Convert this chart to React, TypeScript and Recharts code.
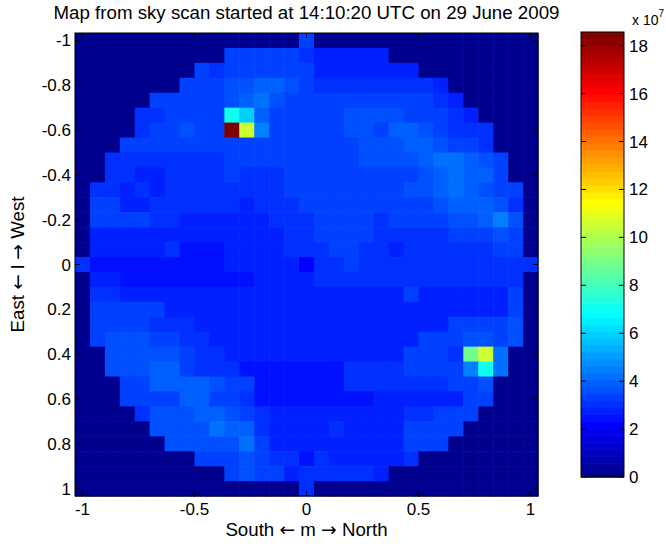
import React from "react";
import { ScatterChart, Scatter, XAxis, YAxis } from "recharts";

// grid positions in fifteenths (cell centres from -1 to 1)
const gridSteps = [
  -15, -14, -13, -12, -11, -10, -9, -8, -7, -6, -5, -4, -3, -2, -1, 0,
  1, 2, 3, 4, 5, 6, 7, 8, 9, 10, 11, 12, 13, 14, 15,
];
const mTicks = [-1, -0.5, 0, 0.5, 1];
const lTicks = [-1, -0.8, -0.6, -0.4, -0.2, 0, 0.2, 0.4, 0.6, 0.8, 1];
const colorTicks = [0, 2, 4, 6, 8, 10, 12, 14, 16, 18];
const colorMax = 18.57;

// sky map, units of 1e7, rows from l = -1 (top) to l = 1, cols from m = -1 to 1
const skyMap = [
  [0,0,0,0,0,0,0,0,0,0,0,0,0,0,0,3.2,0,0,0,0,0,0,0,0,0,0,0,0,0,0,0],
  [0,0,0,0,0,0,0,0,0,0,3.2,3.2,3.2,3.2,3.2,3.1,2.9,2.9,2.9,2.9,2.9,0,0,0,0,0,0,0,0,0,0],
  [0,0,0,0,0,0,0,0,3.3,3.0,3.4,3.4,3.4,3.4,3.4,3.2,2.9,2.9,2.9,2.9,2.9,2.9,2.8,0,0,0,0,0,0,0,0],
  [0,0,0,0,0,0,0,3.2,3.2,3.2,3.5,3.6,4.0,3.9,3.6,3.3,3.0,3.0,3.0,3.0,3.0,3.0,3.0,3.0,2.8,0,0,0,0,0,0],
  [0,0,0,0,0,3.2,3.2,3.2,3.2,3.3,3.5,3.8,4.2,3.7,3.4,3.4,3.2,3.2,3.2,3.2,3.2,3.2,3.2,3.2,3.0,2.7,0,0,0,0,0],
  [0,0,0,0,3.1,3.1,3.3,3.3,3.3,3.4,7.0,5.9,3.8,3.4,3.2,3.2,3.2,3.2,3.5,3.7,3.5,3.7,3.4,3.4,3.2,3.0,2.8,0,0,0,0],
  [0,0,0,0,3.1,3.4,3.4,3.7,3.3,3.3,18.57,10.5,4.5,3.3,3.3,3.3,3.3,3.3,3.5,3.5,3.4,3.8,3.8,3.6,3.4,3.1,3.1,3.0,0,0,0],
  [0,0,0,3.2,3.2,3.2,3.2,3.2,3.4,3.4,3.4,3.4,3.4,3.4,3.4,3.4,3.4,3.4,3.4,3.6,3.6,3.6,3.8,3.8,3.6,3.4,3.2,3.0,0,0,0],
  [0,0,3.1,3.1,3.1,3.1,3.1,3.1,3.1,3.1,3.3,3.3,3.3,3.3,3.3,3.3,3.3,3.3,3.3,3.5,3.5,3.7,3.7,3.9,4.1,4.1,3.8,3.6,3.2,0,0],
  [0,0,3.1,3.1,2.8,2.8,3.0,3.0,3.0,3.0,3.3,3.1,3.1,3.1,3.2,3.2,3.2,3.2,3.2,3.2,3.2,3.4,3.4,3.7,3.8,4.3,4.0,3.8,3.3,0,0],
  [0,3.1,3.1,2.8,3.0,2.8,3.0,3.0,3.0,3.0,3.0,3.0,3.0,3.0,3.3,3.3,3.3,3.3,3.3,3.3,3.3,3.3,3.5,3.5,3.9,4.2,3.9,3.7,3.4,3.2,0],
  [0,3.2,3.2,2.8,2.8,3.0,3.0,3.0,3.0,3.0,3.0,2.8,3.0,3.0,3.0,3.2,3.2,3.2,3.2,3.2,3.2,3.3,3.3,3.3,3.7,4.0,4.0,3.8,3.5,3.0,0],
  [0,3.2,3.2,3.2,3.2,3.0,3.1,2.8,2.8,2.8,2.8,2.8,2.8,3.0,3.0,3.0,3.3,3.3,3.3,3.3,3.1,3.4,3.4,3.2,3.4,3.6,3.6,3.8,4.6,3.6,0],
  [0,2.9,2.9,2.9,2.9,2.9,2.9,2.9,2.9,2.9,2.9,2.9,2.9,2.9,3.1,3.1,3.3,3.3,3.3,3.3,3.1,3.1,3.1,3.1,3.1,3.3,3.3,3.3,3.6,3.3,0],
  [0,2.7,2.7,2.7,2.7,2.7,3.0,2.5,2.5,2.5,2.9,2.9,2.9,2.9,3.1,3.1,3.1,3.3,3.3,3.1,3.1,2.7,3.1,3.1,3.1,3.1,3.1,3.1,3.4,3.4,0],
  [3.1,2.6,2.6,2.6,2.6,2.6,2.6,2.6,2.6,2.6,2.9,2.9,2.9,2.9,2.9,2.3,3.1,3.1,3.3,3.0,3.0,3.0,3.0,3.0,3.0,3.0,3.0,3.0,3.0,3.0,3.1],
  [0,2.9,2.9,2.5,2.5,2.5,2.5,2.5,2.5,2.5,2.5,2.5,2.8,2.8,2.8,2.8,3.1,3.1,3.0,3.0,3.0,3.0,3.0,3.0,3.0,3.0,3.0,3.0,3.0,3.0,0],
  [0,3.0,3.0,2.7,2.7,2.7,2.7,2.7,2.7,2.7,2.7,2.7,2.7,2.7,2.7,2.7,2.7,2.9,2.9,2.9,2.9,2.9,3.4,2.9,2.9,2.9,2.9,2.9,2.9,3.2,0],
  [0,3.2,3.2,3.2,3.2,3.2,2.7,2.7,2.7,2.7,2.7,2.7,2.7,2.7,2.7,2.7,2.7,2.9,2.9,2.9,2.9,2.9,2.9,2.9,2.9,2.9,2.9,2.9,2.9,3.3,0],
  [0,3.4,3.4,3.4,3.4,3.0,3.0,3.0,2.7,2.7,2.7,2.7,2.7,2.7,2.7,2.7,2.7,2.9,2.9,2.9,2.9,2.9,2.9,2.9,2.9,3.2,3.2,3.2,3.2,3.7,0],
  [0,3.4,3.6,3.6,3.6,3.4,3.4,3.1,3.1,2.7,2.7,2.7,2.7,2.7,2.7,2.7,2.7,2.7,2.7,2.9,2.9,2.9,2.9,3.3,3.3,3.3,3.5,3.6,3.4,3.7,0],
  [0,0,3.5,3.5,3.5,3.5,3.5,3.3,3.0,3.0,2.7,2.7,2.7,2.7,2.7,2.7,2.7,2.7,2.7,2.9,2.9,2.9,3.2,3.2,3.2,3.1,8.9,10.7,4.3,0,0],
  [0,0,3.5,3.5,3.5,3.8,3.8,3.4,3.1,3.1,3.0,2.6,2.6,2.6,2.6,2.6,2.6,2.6,3.0,3.0,3.0,3.0,3.2,3.2,3.2,3.2,4.5,7.0,4.1,0,0],
  [0,0,0,3.4,3.4,3.8,3.8,3.8,3.8,3.5,3.3,3.3,2.6,2.6,2.6,2.6,2.6,2.6,3.0,3.0,3.0,3.0,3.0,3.0,3.0,3.2,3.2,3.5,0,0,0],
  [0,0,0,3.4,3.4,3.4,3.4,3.8,3.8,3.4,3.2,3.1,2.6,2.6,2.6,2.6,2.6,2.6,2.6,2.6,2.8,2.8,2.8,2.8,2.8,2.8,3.2,3.2,0,0,0],
  [0,0,0,0,3.1,3.5,3.5,3.5,3.9,3.9,3.5,3.3,3.0,2.7,2.7,2.7,2.7,2.7,2.7,2.7,2.7,2.7,3.0,3.0,3.3,3.3,3.3,0,0,0,0],
  [0,0,0,0,0,3.5,3.5,3.6,3.6,4.1,3.8,4.0,3.0,2.7,2.7,2.7,2.7,3.0,2.7,2.7,2.7,2.7,3.2,3.2,3.2,3.2,0,0,0,0,0],
  [0,0,0,0,0,0,3.5,3.5,3.7,3.7,3.7,4.2,3.2,2.8,2.8,2.8,2.8,2.8,2.8,2.8,2.8,2.8,3.2,3.2,3.2,0,0,0,0,0,0],
  [0,0,0,0,0,0,0,0,3.4,3.4,3.4,3.7,3.3,3.0,3.0,2.6,3.0,2.7,2.7,2.7,2.7,2.7,3.1,0,0,0,0,0,0,0,0],
  [0,0,0,0,0,0,0,0,0,0,3.3,3.6,3.4,3.4,2.8,3.0,3.0,3.0,3.0,3.0,2.8,0,0,0,0,0,0,0,0,0,0],
  [0,0,0,0,0,0,0,0,0,0,0,0,0,0,0,3.1,0,0,0,0,0,0,0,0,0,0,0,0,0,0,0],
];

const FONT = "'Liberation Sans', Arial, Helvetica, sans-serif";
const ARROW_FONT = "'DejaVu Sans', sans-serif";
const PLOT = { left: 75, top: 33, size: 463 };
const BAR = { left: 581, top: 32, width: 43, height: 445 };
const LIMIT = 31 / 30;
const CELL = PLOT.size / gridSteps.length;
const LEVELS = 64;

const cells = skyMap.flatMap((row, r) =>
  row.map((v, c) => ({ m: gridSteps[c] / 15, l: gridSteps[r] / 15, v }))
);

// MATLAB jet(64)
const jet = (k: number) => {
  let r = 0, g = 0, b = 0;
  if (k < 8) b = (k + 9) / 16;
  else if (k < 24) { g = (k - 7) / 16; b = 1; }
  else if (k < 40) { r = (k - 23) / 16; g = 1; b = 1 - (k - 23) / 16; }
  else if (k < 56) { r = 1; g = 1 - (k - 39) / 16; }
  else r = 1 - (k - 55) / 16;
  const h = (x: number) => Math.round(x * 255);
  return `rgb(${h(r)},${h(g)},${h(b)})`;
};
const colorOf = (v: number) =>
  jet(Math.max(0, Math.min(LEVELS - 1, Math.floor((v / colorMax) * LEVELS))));

// one colorbar band per colormap entry
const bands = Array.from({ length: LEVELS }, (_, k) => ({
  x: 0.5,
  y: ((k + 0.5) * colorMax) / LEVELS,
  k,
}));

const fmt = (v: number) => String(Math.round(v * 10) / 10);

const SkyCell = (props: any) => {
  const { cx, cy, payload } = props;
  return (
    <rect
      x={cx - CELL / 2}
      y={cy - CELL / 2}
      width={CELL + 0.6}
      height={CELL + 0.6}
      fill={colorOf(payload.v)}
    />
  );
};

const Band = (props: any) => {
  const { cx, cy, payload } = props;
  const h = BAR.height / LEVELS;
  return (
    <rect x={cx - BAR.width / 2} y={cy - h / 2} width={BAR.width} height={h + 0.6} fill={jet(payload.k)} />
  );
};

const MTick = ({ x, payload }: any) => (
  <g>
    <line x1={x} x2={x} y1={PLOT.top + PLOT.size} y2={PLOT.top + PLOT.size - 5} stroke="#000" />
    <line x1={x} x2={x} y1={PLOT.top} y2={PLOT.top + 5} stroke="#000" />
    <text x={x} y={PLOT.top + PLOT.size + 19} textAnchor="middle" fontSize={17} fontFamily={FONT} fill="#000">
      {fmt(payload.value)}
    </text>
  </g>
);

const LTick = ({ y, payload }: any) => (
  <g>
    <line x1={PLOT.left} x2={PLOT.left + 5} y1={y} y2={y} stroke="#000" />
    <line x1={PLOT.left + PLOT.size} x2={PLOT.left + PLOT.size - 5} y1={y} y2={y} stroke="#000" />
    <text x={PLOT.left - 4} y={y + 6} textAnchor="end" fontSize={17} fontFamily={FONT} fill="#000">
      {fmt(payload.value)}
    </text>
  </g>
);

const BarTick = ({ y, payload }: any) => (
  <g>
    <line x1={21} x2={26} y1={y} y2={y} stroke="#000" />
    <line x1={64} x2={59} y1={y} y2={y} stroke="#000" />
    <text x={69} y={y + 6} textAnchor="start" fontSize={17} fontFamily={FONT} fill="#000">
      {payload.value}
    </text>
  </g>
);

const Arrow = ({ children }: { children: string }) => (
  <tspan fontFamily={ARROW_FONT}>{children}</tspan>
);

const App = () => {
  return (
    <div style={{ position: "absolute", left: 0, top: 0, width: 666, height: 544, background: "#fff" }}>
      <div style={{ position: "absolute", left: 0, top: 0 }}>
        <ScatterChart
          width={666}
          height={544}
          margin={{ top: PLOT.top, right: 666 - PLOT.left - PLOT.size, bottom: 0, left: 0 }}
        >
          <Scatter data={cells} dataKey="v" shape={SkyCell} isAnimationActive={false} />
          <XAxis
            type="number"
            dataKey="m"
            domain={[-LIMIT, LIMIT]}
            ticks={mTicks}
            height={544 - PLOT.top - PLOT.size}
            tickLine={false}
            axisLine={false}
            tick={MTick}
            interval={0}
          />
          <YAxis
            type="number"
            dataKey="l"
            domain={[-LIMIT, LIMIT]}
            ticks={lTicks}
            reversed
            width={PLOT.left}
            tickLine={false}
            axisLine={false}
            tick={LTick}
            interval={0}
          />
        </ScatterChart>
      </div>
      <div style={{ position: "absolute", left: 560, top: 0 }}>
        <ScatterChart
          width={106}
          height={544}
          margin={{ top: BAR.top, right: 0, bottom: 544 - BAR.top - BAR.height, left: 21 }}
        >
          <Scatter data={bands} dataKey="y" shape={Band} isAnimationActive={false} />
          <XAxis type="number" dataKey="x" domain={[0, 1]} hide />
          <YAxis
            type="number"
            dataKey="y"
            orientation="right"
            domain={[0, colorMax]}
            ticks={colorTicks}
            width={42}
            tickLine={false}
            axisLine={false}
            tick={BarTick}
            interval={0}
          />
        </ScatterChart>
      </div>
      <svg
        width={666}
        height={544}
        style={{ position: "absolute", left: 0, top: 0, pointerEvents: "none" }}
        fontFamily={FONT}
      >
        <rect x={PLOT.left} y={PLOT.top} width={PLOT.size} height={PLOT.size} fill="none" stroke="#000" />
        <rect x={BAR.left} y={BAR.top} width={BAR.width} height={BAR.height} fill="none" stroke="#000" />
        <text x={PLOT.left + PLOT.size / 2} y={19} textAnchor="middle" fontSize={18.7}>
          Map from sky scan started at 14:10:20 UTC on 29 June 2009
        </text>
        <text x={PLOT.left + PLOT.size / 2} y={536} textAnchor="middle" fontSize={18.7}>
          South <Arrow>←</Arrow> m <Arrow>→</Arrow> North
        </text>
        <text transform={`translate(24, ${PLOT.top + PLOT.size / 2}) rotate(-90)`} textAnchor="middle" fontSize={18.7}>
          East <Arrow>←</Arrow> l <Arrow>→</Arrow> West
        </text>
        <text x={632} y={25} fontSize={14}>
          x 10
          <tspan dy={-8} fontSize={10}>7</tspan>
        </text>
      </svg>
    </div>
  );
};

export default App;
